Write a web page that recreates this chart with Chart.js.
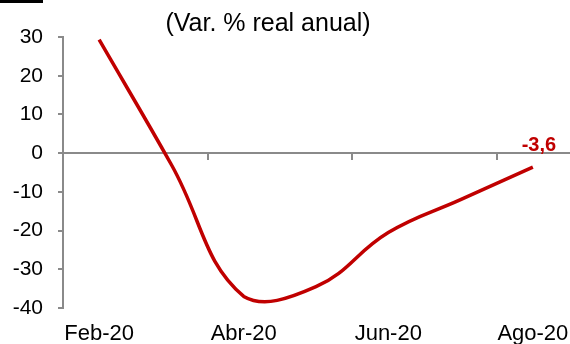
<!DOCTYPE html>
<html>
<head>
<meta charset="utf-8">
<script src="https://cdn.jsdelivr.net/npm/chart.js@4/dist/chart.umd.min.js"></script>
<style>
  html, body { margin: 0; padding: 0; background: #fff; }
  #wrap { position: relative; width: 570px; height: 344px; overflow: hidden; }
  #bar { position: absolute; left: 0; top: 0; width: 43px; height: 3px; background: #000; }
  #subtitle { position: absolute; left: 0; top: 10px; width: 536px; text-align: center;
              font: 25px/24px "Liberation Sans", Arial, sans-serif; color: #000; }
  canvas { position: absolute; left: 0; top: 0; }
</style>
</head>
<body>
<div id="wrap">
  <canvas id="c" width="570" height="344"></canvas>
  <div id="bar"></div>
  <div id="subtitle">(Var. % real anual)</div>
</div>
<script>
// Monthly categories (labels shown every other month)
const months = ['Feb-20', 'Mar-20', 'Abr-20', 'May-20', 'Jun-20', 'Jul-20', 'Ago-20'];
// Annual real % change
const values = [29.3, -3.0, -37.0, -34.5, -20.5, -12.0, -3.6];
// Y axis range and step
const yMin = -40, yMax = 30, yStep = 10;

const FONT = '"Liberation Sans", Arial, sans-serif';
const AXIS_GRAY = '#8a8a8a';
const RED = '#C00000';

// Writes the value of the last point above it
const lastValueLabel = {
  id: 'lastValueLabel',
  afterDatasetsDraw(chart) {
    const meta = chart.getDatasetMeta(0);
    const i = values.length - 1;
    const pt = meta.data[i];
    const ctx = chart.ctx;
    ctx.save();
    ctx.font = 'bold 20px ' + FONT;
    ctx.fillStyle = RED;
    ctx.textAlign = 'center';
    ctx.textBaseline = 'middle';
    ctx.fillText(values[i].toFixed(1).replace('.', ','), pt.x + 6, pt.y - 22);
    ctx.restore();
  }
};

new Chart(document.getElementById('c'), {
  type: 'line',
  data: {
    labels: months,
    datasets: [{
      data: values,
      borderColor: RED,
      borderWidth: 3.5,
      tension: 0.42,
      pointRadius: 0,
      fill: false
    }]
  },
  options: {
    responsive: false,
    animation: false,
    layout: { padding: { top: 37, right: 1, left: 0, bottom: 0 } },
    plugins: { legend: { display: false }, tooltip: { enabled: false } },
    scales: {
      x: {
        type: 'category',
        offset: true,
        position: 'bottom',
        border: { display: false },
        grid: { display: false, drawTicks: false },
        ticks: {
          autoSkip: false,
          maxRotation: 0,
          padding: 13,
          color: '#000',
          font: { family: FONT, size: 22 },
          callback: (v, i) => (i % 2 === 0 ? months[i] : '')
        },
        afterFit(scale) {
          scale.height = 36;
          scale.paddingLeft = 0;
          scale.paddingRight = 0;
        }
      },
      // Zero line with tick marks every two months
      x2: {
        type: 'category',
        offset: true,
        position: { y: 0 },
        border: { display: true, color: AXIS_GRAY, width: 2 },
        grid: {
          offset: true,
          drawOnChartArea: false,
          tickLength: 6,
          lineWidth: 2,
          color: (ctx) => (ctx.index > 0 && ctx.index % 2 === 0 && ctx.index < months.length ? AXIS_GRAY : 'rgba(0,0,0,0)')
        },
        ticks: { display: false },
        afterFit(scale) {
          scale.paddingLeft = 0;
          scale.paddingRight = 0;
        }
      },
      y: {
        min: yMin,
        max: yMax,
        border: { display: true, color: AXIS_GRAY, width: 2 },
        grid: { drawOnChartArea: false, tickLength: 5, color: AXIS_GRAY, lineWidth: 2 },
        ticks: {
          stepSize: yStep,
          padding: 15,
          color: '#000',
          font: { family: FONT, size: 21 }
        },
        afterFit(scale) { scale.width = 63; }
      }
    }
  },
  plugins: [lastValueLabel]
});
</script>
</body>
</html>
